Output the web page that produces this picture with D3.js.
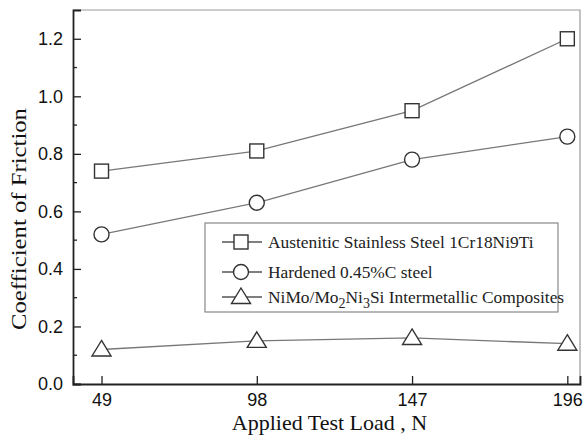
<!DOCTYPE html>
<html>
<head>
<meta charset="utf-8">
<script src="https://cdn.jsdelivr.net/npm/d3@7"></script>
<style>
	body{margin:0;background:#fff;}
	svg text.tick-label{font-family:"Liberation Sans",Arial,sans-serif;}
	svg text.serif{font-family:"Liberation Serif","Times New Roman",serif;}
</style>
</head>
<body>
<div id="chart"></div>
<script>
var loads=[49,98,147,196];
var steelAusten=[0.74,0.81,0.95,1.20];
var steelHard=[0.52,0.63,0.78,0.86];
var composites=[0.12,0.15,0.16,0.14];
var yTicks=[0.0,0.2,0.4,0.6,0.8,1.0,1.2];
var yMinor=[0.1,0.3,0.5,0.7,0.9,1.1];
var seriesNames=["Austenitic Stainless Steel 1Cr18Ni9Ti","Hardened 0.45%C steel","NiMo/Mo2Ni3Si Intermetallic Composites"];
var seriesShapes=["square","circle","triangle"];

var W=585, H=441;
var mLeft=73, mRight=580, mTop=10, mBottom=384;

var svg=d3.select("#chart").append("svg").attr("width",W).attr("height",H);

var x=d3.scaleLinear().domain([40,200]).range([mLeft,mRight]);
var y=d3.scaleLinear().domain([0,1.3]).range([mBottom,mTop]);

// top and right frame
svg.append("path")
	.attr("d","M"+mLeft+","+mTop+"H"+mRight+"V"+mBottom)
	.attr("fill","none").attr("stroke","#999").attr("stroke-width",1.2);

// y axis
var yAxis=d3.axisLeft(y).tickValues(yTicks).tickSize(-8).tickPadding(10).tickFormat(d3.format(".1f"));
var gy=svg.append("g").attr("transform","translate("+mLeft+",0)").call(yAxis);
gy.select(".domain").attr("stroke","#222").attr("stroke-width",1.8);
gy.selectAll(".tick line").attr("stroke","#222").attr("stroke-width",1.3);
gy.selectAll(".tick text").attr("class","tick-label").attr("font-size",18).attr("fill","#111");
gy.selectAll("line.minor").data(yMinor).enter().append("line").attr("class","minor")
	.attr("x1",0).attr("x2",4).attr("y1",function(d){return y(d);}).attr("y2",function(d){return y(d);})
	.attr("stroke","#222").attr("stroke-width",1.3);

// x axis
var xAxis=d3.axisBottom(x).tickValues(loads).tickSize(-8).tickPadding(9).tickFormat(d3.format("d"));
var gx=svg.append("g").attr("transform","translate(0,"+mBottom+")").call(xAxis);
gx.select(".domain").attr("stroke","#222").attr("stroke-width",1.8);
gx.selectAll(".tick line").attr("stroke","#222").attr("stroke-width",1.3);
gx.selectAll(".tick text").attr("class","tick-label").attr("font-size",18).attr("fill","#111");

// axis titles
svg.append("text").attr("class","serif")
	.attr("x",(mLeft+mRight)/2+3).attr("y",430)
	.attr("text-anchor","middle").attr("font-size",22).attr("fill","#111")
	.text("Applied Test Load , N");
svg.append("text").attr("class","serif")
	.attr("transform","translate(26,219) rotate(-90)")
	.attr("text-anchor","middle").attr("font-size",22).attr("fill","#111")
	.attr("textLength",222).attr("lengthAdjust","spacingAndGlyphs")
	.text("Coefficient of Friction");

function drawMarker(g,shape){
	if(shape=="square"){
		g.append("rect").attr("x",-7).attr("y",-7).attr("width",14).attr("height",14);
	}else if(shape=="circle"){
		g.append("circle").attr("r",7.5);
	}else{
		g.append("path").attr("d","M0,-9L9.5,6.5L-9.5,6.5Z");
	}
	g.selectAll("*").attr("fill","#fff").attr("stroke","#333").attr("stroke-width",1.4);
}

var allSeries=[steelAusten,steelHard,composites];
var line=d3.line().x(function(d,i){return x(loads[i]);}).y(function(d){return y(d);});

allSeries.forEach(function(vals,k){
	svg.append("path").datum(vals).attr("d",line)
		.attr("fill","none").attr("stroke","#777").attr("stroke-width",1.3);
	vals.forEach(function(v,i){
		var g=svg.append("g").attr("transform","translate("+x(loads[i])+","+y(v)+")");
		drawMarker(g,seriesShapes[k]);
	});
});

// legend
var lg=svg.append("g");
lg.append("rect").attr("x",205).attr("y",223).attr("width",353).attr("height",89)
	.attr("fill","#fff").attr("stroke","#888").attr("stroke-width",1.2);
var rowY=[242,272,297];
seriesNames.forEach(function(name,k){
	lg.append("line").attr("x1",222).attr("x2",262).attr("y1",rowY[k]).attr("y2",rowY[k])
		.attr("stroke","#555").attr("stroke-width",1.3);
	var g=lg.append("g").attr("transform","translate(241,"+rowY[k]+")");
	drawMarker(g,seriesShapes[k]);
	var t=lg.append("text").attr("class","serif").attr("x",268).attr("y",rowY[k]+6)
		.attr("font-size",17.4).attr("fill","#222");
	if(k==2){
		t.append("tspan").text("NiMo/Mo");
		t.append("tspan").attr("dy",5).attr("font-size",14).text("2");
		t.append("tspan").attr("dy",-5).text("Ni");
		t.append("tspan").attr("dy",5).attr("font-size",14).text("3");
		t.append("tspan").attr("dy",-5).text("Si Intermetallic Composites");
	}else{
		t.text(name);
	}
});
</script>
</body>
</html>
